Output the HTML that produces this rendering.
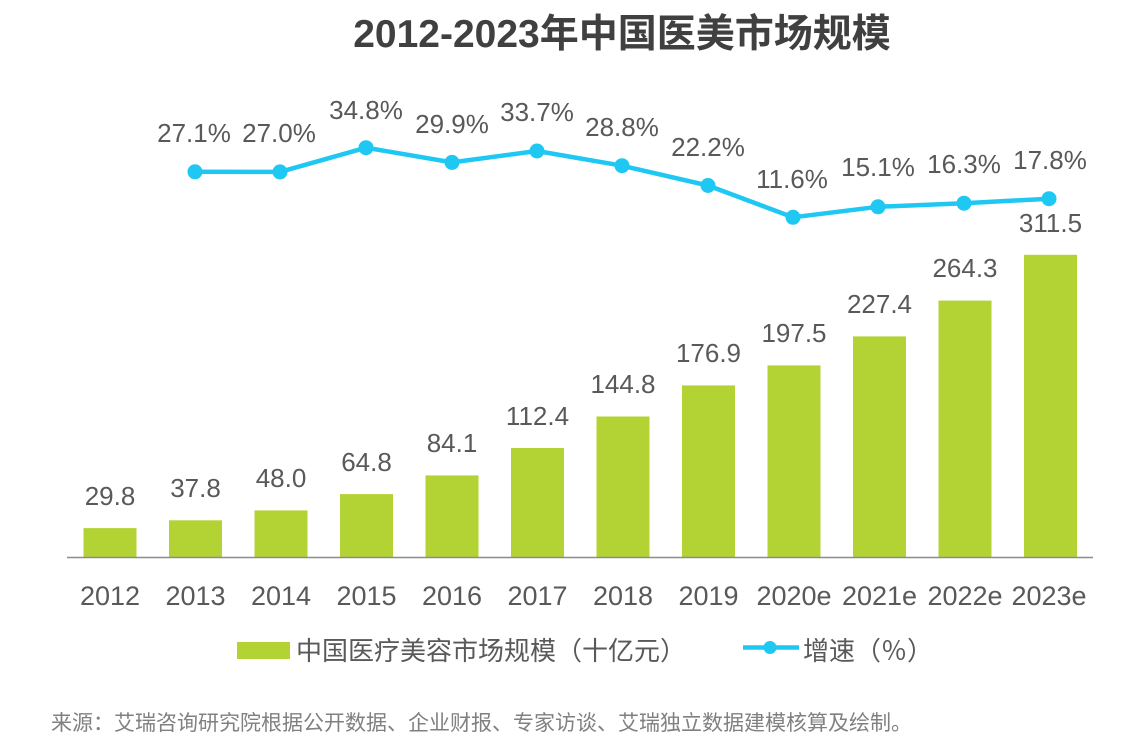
<!DOCTYPE html>
<html>
<head>
<meta charset="utf-8">
<style>
  html,body{margin:0;padding:0;background:#fff;}
  svg{display:block;}
  text{font-family:"Liberation Sans","Noto Sans CJK SC",sans-serif;}
</style>
</head>
<body>
<svg width="1134" height="752" viewBox="0 0 1134 752" xmlns="http://www.w3.org/2000/svg">
  <rect width="1134" height="752" fill="#fff"/>
  <!-- Title -->
  <text x="622" y="47" text-anchor="middle" font-size="39" font-weight="bold" fill="#404040">2012-2023年中国医美市场规模</text>

  <!-- Bars -->
  <g fill="#B3D335">
    <rect x="83.5" y="528.1" width="53" height="28.9"/>
    <rect x="169" y="520.3" width="53" height="36.7"/>
    <rect x="254.5" y="510.4" width="53" height="46.6"/>
    <rect x="340" y="494.1" width="53" height="62.9"/>
    <rect x="425.5" y="475.4" width="53" height="81.6"/>
    <rect x="511" y="448" width="53" height="109"/>
    <rect x="596.5" y="416.5" width="53" height="140.5"/>
    <rect x="682" y="385.4" width="53" height="171.6"/>
    <rect x="767.5" y="365.4" width="53" height="191.6"/>
    <rect x="853" y="336.4" width="53" height="220.6"/>
    <rect x="938.5" y="300.6" width="53" height="256.4"/>
    <rect x="1024" y="254.8" width="53" height="302.2"/>
  </g>

  <!-- Axis -->
  <line x1="67" y1="557.5" x2="1093" y2="557.5" stroke="#8c8c8c" stroke-width="1.5"/>

  <!-- Bar value labels -->
  <g font-size="26" fill="#595959" text-anchor="middle">
    <text x="110" y="505">29.8</text>
    <text x="195.5" y="497">37.8</text>
    <text x="281" y="487">48.0</text>
    <text x="366.5" y="471">64.8</text>
    <text x="452" y="452">84.1</text>
    <text x="537.5" y="425">112.4</text>
    <text x="623" y="393">144.8</text>
    <text x="708.5" y="362">176.9</text>
    <text x="794" y="342">197.5</text>
    <text x="879.5" y="313">227.4</text>
    <text x="965" y="277">264.3</text>
    <text x="1050.5" y="232">311.5</text>
  </g>

  <!-- Year labels -->
  <g font-size="27" fill="#595959" text-anchor="middle">
    <text x="110" y="605">2012</text>
    <text x="195.5" y="605">2013</text>
    <text x="281" y="605">2014</text>
    <text x="366.5" y="605">2015</text>
    <text x="452" y="605">2016</text>
    <text x="537.5" y="605">2017</text>
    <text x="623" y="605">2018</text>
    <text x="708.5" y="605">2019</text>
    <text x="794" y="605">2020e</text>
    <text x="879.5" y="605">2021e</text>
    <text x="965" y="605">2022e</text>
    <text x="1049" y="605">2023e</text>
  </g>

  <!-- Growth line -->
  <polyline fill="none" stroke="#1FC8F2" stroke-width="4.5" stroke-linejoin="round"
    points="195,171.8 280,171.9 366,147.7 452,162.4 537,151 622,165.7 708,185.5 793,217.3 878,206.8 964,203.2 1049,198.7"/>
  <g fill="#1FC8F2">
    <circle cx="195" cy="171.8" r="7.5"/>
    <circle cx="280" cy="171.9" r="7.5"/>
    <circle cx="366" cy="147.7" r="7.5"/>
    <circle cx="452" cy="162.4" r="7.5"/>
    <circle cx="537" cy="151" r="7.5"/>
    <circle cx="622" cy="165.7" r="7.5"/>
    <circle cx="708" cy="185.5" r="7.5"/>
    <circle cx="793" cy="217.3" r="7.5"/>
    <circle cx="878" cy="206.8" r="7.5"/>
    <circle cx="964" cy="203.2" r="7.5"/>
    <circle cx="1049" cy="198.7" r="7.5"/>
  </g>

  <!-- Percent labels -->
  <g font-size="26" fill="#595959" text-anchor="middle">
    <text x="194" y="142">27.1%</text>
    <text x="279" y="142">27.0%</text>
    <text x="366" y="119">34.8%</text>
    <text x="452" y="133">29.9%</text>
    <text x="537" y="121">33.7%</text>
    <text x="622" y="136">28.8%</text>
    <text x="708" y="156">22.2%</text>
    <text x="792" y="188">11.6%</text>
    <text x="878" y="176">15.1%</text>
    <text x="964" y="173">16.3%</text>
    <text x="1050" y="169">17.8%</text>
  </g>

  <!-- Legend -->
  <rect x="237" y="642" width="53" height="17" fill="#B3D335"/>
  <text x="296" y="660" font-size="26" fill="#595959">中国医疗美容市场规模（十亿元）</text>
  <line x1="743" y1="647.5" x2="799" y2="647.5" stroke="#1FC8F2" stroke-width="4.5"/>
  <circle cx="770" cy="647.5" r="6.5" fill="#1FC8F2"/>
  <text x="803" y="660" font-size="26" fill="#595959">增速（％）</text>

  <!-- Footer -->
  <text x="51" y="730" font-size="21" fill="#808080">来源：艾瑞咨询研究院根据公开数据、企业财报、专家访谈、艾瑞独立数据建模核算及绘制。</text>
</svg>
</body>
</html>
